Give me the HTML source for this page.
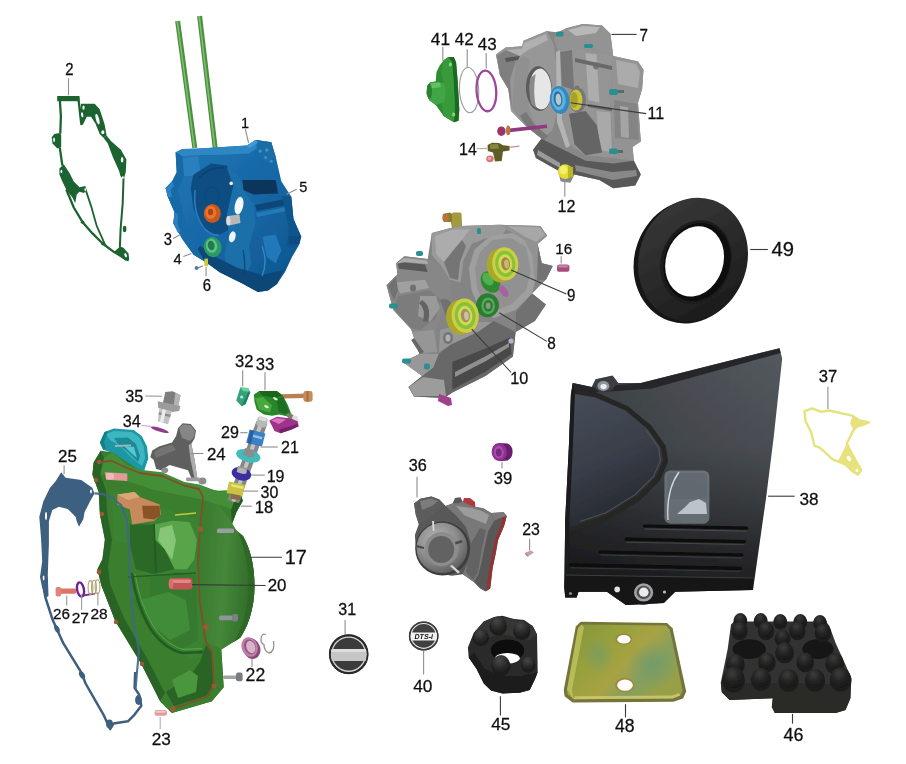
<!DOCTYPE html>
<html>
<head>
<meta charset="utf-8">
<title>Crankcase parts diagram</title>
<style>
html,body{margin:0;padding:0;background:#fff;}
body{width:906px;height:764px;overflow:hidden;font-family:"Liberation Sans",sans-serif;}
svg{display:block;}
text{font-family:"Liberation Sans",sans-serif;fill:#111;}
.ld{stroke:#8a8a8a;stroke-width:1;fill:none;}
.ldk{stroke:#333;stroke-width:1;fill:none;}
</style>
</head>
<body>
<svg width="906" height="764" viewBox="0 0 906 764">
<defs>
  <filter id="soft" x="-5%" y="-5%" width="110%" height="110%"><feGaussianBlur stdDeviation="0.6"/></filter>
  <filter id="softT" x="-2%" y="-2%" width="104%" height="104%"><feGaussianBlur stdDeviation="0.35"/></filter>
  <filter id="soft2" x="-5%" y="-5%" width="110%" height="110%"><feGaussianBlur stdDeviation="1.2"/></filter>
  <filter id="soft3" x="-10%" y="-10%" width="120%" height="120%"><feGaussianBlur stdDeviation="2.5"/></filter>
  <linearGradient id="blueG" x1="0" y1="0" x2="1" y2="1">
    <stop offset="0" stop-color="#2579b6"/><stop offset="0.5" stop-color="#1567a6"/><stop offset="1" stop-color="#0e548c"/>
  </linearGradient>
  <linearGradient id="grayG" x1="0" y1="0" x2="1" y2="1">
    <stop offset="0" stop-color="#c4c4c4"/><stop offset="0.5" stop-color="#9a9a9a"/><stop offset="1" stop-color="#5c5c5c"/>
  </linearGradient>
  <linearGradient id="greenG" x1="0" y1="0" x2="1" y2="1">
    <stop offset="0" stop-color="#5aa648"/><stop offset="0.5" stop-color="#3b8a34"/><stop offset="1" stop-color="#1f5c22"/>
  </linearGradient>
</defs>
<rect x="0" y="0" width="906" height="764" fill="#ffffff"/>

<!-- ===== PART 2 : green gasket ===== -->
<g id="p2" filter="url(#soft)">
  <g fill="none" stroke="#1e6430" stroke-width="2.3" stroke-linejoin="round" stroke-linecap="round">
    <path d="M59.4,99 L59.9,101.2 L60.9,116.1 L60.3,132.9"/>
    <path d="M59.9,148.4 L62.2,164.6"/>
    <path d="M66.6,190.2 L73.8,207.5 L82.4,221.9 L92.5,233.4 L102.6,243.5 L114.1,252.1 L127.8,260"/>
    <path d="M86,190.9 L91.1,206.1 L96.8,226.2 L102.6,239.2 L105.5,245.6" stroke-width="1.8"/>
    <path d="M123.5,178.7 L122.7,203.2 L120.6,229.1 L119.9,246.4" stroke-width="2"/>
    <path d="M78.3,97.4 L79.8,111.1 L81.3,124.2"/>
  </g>
  <g fill="#1e6430">
    <rect x="57.2" y="96" width="22.2" height="5.2"/>
    <path d="M81.1,103.7 L94.7,103.7 L99.7,109.2 L104.7,124.8 L106.6,135.4 L103.4,137.8 L99.7,134.1 L95.4,123.5 L91,116.7 L86.7,116.7 L82.9,124.8 L81.1,124.2 L79.8,111.1 Z"/>
    <path d="M106.6,135.4 L110.9,141 L120.9,149.7 L126.4,159.6 L125.8,172 L123.5,180.2 L120.4,176 L119,170.8 L112.8,157.1 L107.8,143.4 L103.4,137.8 Z"/>
    <path d="M52.5,143.4 L51.8,137.2 L54.3,134.1 L59.3,132.9 L61.2,134.7 L61.2,147.2 L57.4,148.4 Z"/>
    <path d="M59.4,168.6 L63.7,164.3 L69.5,173 L73.8,181.6 L79.5,187.3 L85.3,185.9 L86.7,190.2 L83.9,193.1 L79.5,191.7 L76.7,194.5 L75.2,203.2 L72.4,197.4 L66.6,190.2 L62.3,181.6 L59.4,174.4 Z"/>
    <path d="M114.1,252.1 L119.9,246.4 L123.5,247.8 L128.5,253.6 L129.2,259.3 L125.6,260.8 Z"/>
    <ellipse cx="124.6" cy="229" rx="1.8" ry="3.2"/>
    <ellipse cx="82.6" cy="222.2" rx="1.8" ry="1.6"/>
    <ellipse cx="103" cy="243.6" rx="2" ry="1.8"/>
  </g>
  <g fill="#fff">
    <ellipse cx="83.5" cy="107.7" rx="1.1" ry="2.1"/>
    <ellipse cx="82.2" cy="114.8" rx="1.1" ry="2.6" transform="rotate(-8 82.2 114.8)"/>
    <ellipse cx="97.5" cy="119.2" rx="1.6" ry="5.4" transform="rotate(-15 97.5 119.2)"/>
    <ellipse cx="102.8" cy="132.2" rx="1.5" ry="2"/>
    <ellipse cx="122.1" cy="159.8" rx="1.3" ry="2.8"/>
    <ellipse cx="122.8" cy="177.6" rx="1" ry="1.4"/>
    <ellipse cx="54.1" cy="139.8" rx="0.9" ry="2.4"/>
    <ellipse cx="61.4" cy="171.5" rx="0.9" ry="1.8"/>
    <ellipse cx="85.2" cy="189.6" rx="0.8" ry="1.6"/>
    <ellipse cx="125.6" cy="255.2" rx="1.2" ry="2.2" transform="rotate(-20 125.6 255.2)"/>
    <rect x="61.5" y="98.6" width="14.5" height="1.3" fill="#fff" opacity="0"/>
  </g>
</g>

<!-- ===== PART 1 : blue crankcase with studs ===== -->
<g id="p1">
  <g filter="url(#soft)">
    <line x1="177.6" y1="21" x2="194.8" y2="148" stroke="#4c8f43" stroke-width="5"/>
    <line x1="177.2" y1="21" x2="194.4" y2="148" stroke="#7cbf6c" stroke-width="1.6"/>
    <line x1="199.6" y1="16" x2="215.2" y2="148" stroke="#4c8f43" stroke-width="5"/>
    <line x1="199.2" y1="16" x2="214.8" y2="148" stroke="#7cbf6c" stroke-width="1.6"/>
  </g>
  <g filter="url(#soft)">
    <path d="M175.6,152.3 L182.3,148.9 L197.8,148.9 L211.2,147.8 L246.8,145.6 L255.7,140 L271.3,142.2 L275.7,156.7 L281.3,181.2 L291.3,196.8 L293.5,219 L301.3,236.8 L299,245 L292,257 L285,272 L277,284 L268,290.5 L257.9,292 L242.3,283.6 L220.1,272.4 L204.5,261.3 L193.4,254.6 L182.3,239 L173.4,223.5 L174.5,212.3 L167.8,196.8 L165.6,187.9 L172.2,181.2 L176.7,172.3 Z" fill="url(#blueG)"/>
    <!-- top rim lighter -->
    <path d="M175.6,152.3 L182.3,148.9 L211.2,147.8 L246.8,145.6 L255.7,140.0 L271.3,142.2 L272.4,147.8 L257.9,147.8 L249.0,153.4 L215.6,154.9 L200.1,154.9 L182.3,156.3 Z" fill="#2f86c2"/>
    <!-- cavity -->
    <path d="M193.4,174.5 L211.2,163.4 L226.8,165.6 L234.6,185.6 L231.2,214.6 L227.9,230.2 L217.9,235.7 L202.3,227.9 L193.4,207.9 L190.7,187.9 Z" fill="#0d4d82"/>
    <!-- web wall -->
    <path d="M226.8,167.8 L237.9,174.5 L244.6,192.3 L253.5,203.4 L255.7,223.5 L249.0,245.7 L251.3,263.5 L244.6,276.9 L226.8,268.0 L224.5,254.6 L229.0,234.6 L226.8,214.6 L233.4,185.6 Z" fill="#1c6fa9"/>
    <!-- dark recess top -->
    <path d="M242.4,180.1 L275.7,180.1 L278.0,193.4 L253.5,194.5 L243.5,190.1 Z" fill="#08355c"/>
    <!-- bottom shade -->
    <path d="M193.4,254.6 L204.5,261.3 L220.1,272.4 L242.4,283.6 L257.9,292 L268,290.5 L277,284 L283,270 L262,275 L237.9,268.0 L215.6,256.9 L200.1,245.7 Z" fill="#0b4678"/>
    <path d="M262.4,236.8 L275.7,234.6 L281.3,250.2 L275.7,263.5 L266.8,256.9 Z" fill="#2580c0" opacity="0.8"/>
    <path d="M255.7,140.0 L271.3,142.2 L275.7,156.7 L266.8,163.4 L257.9,154.5 Z" fill="#1d6ca6"/>
    <!-- ribs on right body -->
    <path d="M255,205 L290,198 L292,204 L257,211 Z" fill="#0c4778"/>
    <path d="M256,213 L291,206 L292,210 L257,217 Z" fill="#2a84c4" opacity="0.7"/>
    <path d="M282,196 L291.3,196.8 L293.5,219 L301.3,236.8 L293.5,248 L287,246 L289,228 Z" fill="#10548a"/>
    <!-- left flange shading -->
    <path d="M175.6,152.3 L182.3,156.3 L184,176 L178,190 L183,214 L190,235 L204.5,261.3 L193.4,254.6 L182.3,239 L173.4,223.5 L174.5,212.3 L167.8,196.8 L165.6,187.9 L172.2,181.2 L176.7,172.3 Z" fill="#186aa6"/>
    <path d="M183,158 L198,156 L200,170 L192,176 L184,176 Z" fill="#2c80bc"/>
    <!-- extra details -->
    <g fill="#3b92d2">
      <circle cx="260.2" cy="151.1" r="1.7"/><circle cx="266.8" cy="150" r="1.7"/><circle cx="265.7" cy="157.6" r="1.5"/><circle cx="271.3" cy="161.2" r="1.5"/>
    </g>
    <path d="M195,190 Q193,214 204,228 Q211,236 219,235" fill="none" stroke="#2b82c4" stroke-width="1.6" opacity="0.9"/>
    <path d="M199,178 Q210,166 224,168" fill="none" stroke="#0a3f6e" stroke-width="1.6" opacity="0.8"/>
    <ellipse cx="212" cy="196" rx="7" ry="9" fill="none" stroke="#0b4576" stroke-width="1.2" opacity="0.8"/>
    <path d="M167.8,196.8 L165.6,187.9 L172.2,181.2 L174,186 L170.6,190 L172,197 Z" fill="#2c84c6"/>
    <path d="M173.4,223.5 L174.5,212.3 L178,214 L177.6,224 L181,232 L178,233 Z" fill="#2a80c2"/>
    <path d="M246.8,145.6 L255.7,140 L258,142.6 L249.6,148 Z" fill="#3f9bd8"/>
    <path d="M288.5,236 L301,236.6 L299.4,244 L289,244.6 Z" fill="#0d4c82"/>
    <path d="M262,246 Q268,262 262,276" fill="none" stroke="#3590cf" stroke-width="1.4" opacity="0.85"/>
    <path d="M243,250 Q246,266 244,276" fill="none" stroke="#0a4070" stroke-width="1.4" opacity="0.8"/>
    <!-- white holes -->
    <ellipse cx="239" cy="205.7" rx="4.2" ry="9" fill="#f4f8fb" transform="rotate(12 239 205.7)"/>
    <ellipse cx="232.3" cy="236.8" rx="3.2" ry="5.6" fill="#eef4f8" transform="rotate(15 232.3 236.8)"/>
    <circle cx="231.2" cy="183.4" r="1.8" fill="#e8f0f6"/>
    <!-- orange part 3 -->
    <ellipse cx="212.3" cy="213.5" rx="8.5" ry="9.5" fill="#c8581e"/>
    <ellipse cx="210.8" cy="212.5" rx="5.5" ry="6.5" fill="#e8742c"/>
    <ellipse cx="210.5" cy="212" rx="2.6" ry="3.2" fill="#a8451a"/>
    <!-- gray cylinder 5 -->
    <path d="M227.5,216 L239.5,214.5 L240.5,223 L229,225.5 Z" fill="#b8b8b8"/>
    <ellipse cx="228.3" cy="220.8" rx="2.2" ry="4.8" fill="#dcdcdc"/>
    <!-- green seal 4 -->
    <ellipse cx="212.6" cy="247" rx="8.8" ry="10.2" fill="#2f9a62" transform="rotate(-12 212.6 247)"/>
    <ellipse cx="211.6" cy="245.8" rx="5.6" ry="7" fill="#5cc48a" transform="rotate(-12 211.6 245.8)"/>
    <ellipse cx="211.2" cy="245.5" rx="3.4" ry="4.8" fill="#237a4d" transform="rotate(-12 211.2 245.5)"/>
    <!-- yellow 6 + screw -->
    <rect x="204.4" y="258.6" width="3.6" height="7.6" fill="#c8c83c"/>
    <circle cx="196.6" cy="268" r="2" fill="#5a7a9c"/>
    <line x1="197" y1="268" x2="203" y2="266" stroke="#6a86a4" stroke-width="1.2"/>
  </g>
</g>

<!-- ===== PART 41/42/43 : green cap + o-rings ===== -->
<g id="p41" filter="url(#soft)">
  <path d="M443.6,60.2 L448.3,57.1 L453.8,57.1 L456.1,62.6 L457.7,81.4 L459.3,109.7 L458.5,120.7 L453.8,122.3 L443.6,116 L435.7,105 L429.4,100.3 L426.6,94 L427.1,86.1 L430.2,82.2 L435.7,81.4 L436.5,72 L439.6,65.7 Z" fill="#2e8c33"/>
  <path d="M448.3,57.1 L453.8,57.1 L456.1,62.6 L457.7,81.4 L459.3,109.7 L458.5,120.7 L453.8,122.3 L455,108 L453.6,80 L452,62 Z" fill="#1d6a24"/>
  <path d="M443.6,60.2 L448.3,57.1 L452,62 L453.6,80 L455,108 L453.8,122.3 L443.6,116 L441,101 L444,84 L441,72 Z" fill="#379a3b"/>
  <path d="M429.4,100.3 L426.6,94 L427.1,86.1 L430.2,82.2 L435.7,81.4 L444,83 L446,92 L444,102 L435.7,105 Z" fill="#3fa544"/>
  <path d="M430.5,83.5 L440,82.5 L441,87 L431,88.5 Z" fill="#6cc86c" opacity="0.8"/>
  <ellipse cx="429.4" cy="91.4" rx="2.6" ry="7.6" fill="#2a822f"/>
  <ellipse cx="450.4" cy="64.6" rx="1.5" ry="2" fill="#86d484"/>
  <ellipse cx="453.6" cy="114.6" rx="1.5" ry="2" fill="#86d484"/>
  <ellipse cx="469.1" cy="90.1" rx="9.6" ry="22.6" fill="none" stroke="#9c9c9c" stroke-width="1.1" transform="rotate(-3 469.1 90.1)"/>
  <ellipse cx="486.4" cy="90.9" rx="9.8" ry="20.4" fill="none" stroke="#9a4a98" stroke-width="2.3" transform="rotate(-4 486.4 90.9)"/>
</g>

<!-- ===== PART 7 : upper gray crankcase ===== -->
<g id="p7" filter="url(#soft)">
  <path d="M495.9,54.5 L505.5,47.6 L522.1,46.2 L523.5,40.7 L546.9,31.0 L558.0,32.4 L566.2,28.3 L582.8,24.1 L602.1,25.5 L610.4,33.8 L613.2,55.9 L638.0,61.4 L643.5,69.7 L642.1,89.0 L638.0,102.8 L640.8,141.4 L632.5,146.9 L633.9,160.7 L640.8,174.5 L635.2,185.6 L613.2,188.3 L599.4,180.0 L574.5,174.5 L570.4,182.8 L560.7,181.4 L558.0,170.4 L535.9,158.0 L533.1,149.7 L541.4,138.7 L524.9,124.9 L511.1,111.1 L508.3,89.0 L500.0,75.2 Z" fill="#878787"/>
  <!-- left flange face -->
  <path d="M495.9,54.5 L505.5,47.6 L522.1,46.2 L523.5,40.7 L546.9,31.0 L553.8,44.8 L556.6,66.9 L558.0,89.0 L556.6,113.8 L552.5,130.4 L541.4,138.7 L524.9,124.9 L511.1,111.1 L508.3,89.0 L500.0,75.2 Z" fill="#979797"/>
  <path d="M497,56 L506,50 L521,49 L516,60 L510,80 L512,108 L508.3,89.0 L500.0,75.2 Z" fill="#7f7f7f"/>
  <path d="M512,108 L516,62 L524,56 L530,60 L527,80 L528,104 L534,122 L541,136 L524.9,124.9 Z" fill="#909090"/>
  <path d="M505,58 L520,56 L518,60 L506,62 Z" fill="#565656"/>
  <path d="M506,50 L522,48.5 L524,43 L546,34 L548,40 L528,50 L520,56 Z" fill="#b0b0b0"/>
  <!-- top lighter -->
  <path d="M566.2,28.3 L582.8,24.1 L602.1,25.5 L610.4,33.8 L613.2,55.9 L588.3,50.4 L574.5,47.6 L558.0,50.4 L553.8,39.3 L558.0,32.4 Z" fill="#939393"/>
  <path d="M568,30 L583,26 L600,27 L596,33 L576,36 Z" fill="#b8b8b8"/>
  <!-- middle body -->
  <path d="M558.0,50.4 L574.5,47.6 L588.3,50.4 L613.2,55.9 L610.4,102.8 L613.2,158.0 L585.6,155.2 L569.0,144.2 L558.0,113.8 L556.6,66.9 Z" fill="#959595"/>
  <path d="M585.6,53.1 L596.6,54.5 L599.4,102.8 L588.3,100.0 Z" fill="#adadad"/>
  <path d="M596.6,111.1 L610.4,112.4 L611.8,152.5 L599.4,149.7 Z" fill="#a9a9a9"/>
  <path d="M569.0,113.8 L585.6,111.1 L596.6,124.9 L602.1,152.5 L585.6,155.2 L574.5,144.2 Z" fill="#656565"/>
  <path d="M560,52 L572,50 L574,90 L562,86 Z" fill="#767676"/>
  <!-- right face -->
  <path d="M613.2,55.9 L638.0,61.4 L643.5,69.7 L642.1,89.0 L638.0,102.8 L640.8,141.4 L632.5,146.9 L633.9,160.7 L613.2,158.0 L610.4,102.8 Z" fill="#939393"/>
  <path d="M616,60 L636,64 L640,72 L638,88 L618,84 Z" fill="#ababab"/>
  <path d="M614,100 L637,104 L639,140 L615,138 Z" fill="#848484"/>
  <path d="M620,106 L628,107 L629,138 L621,137 Z" fill="#a4a4a4"/>
  <!-- bottom dark -->
  <path d="M535.9,158.0 L558.0,170.4 L574.5,174.5 L599.4,180.0 L613.2,188.3 L635.2,185.6 L640.8,174.5 L633.9,160.7 L613.2,163.5 L585.6,160.7 L563.5,149.7 L541.4,138.7 L533.1,149.7 Z" fill="#595959"/>
  <path d="M575,165 L612,172 L636,170 L637,176 L613,180 L576,171 Z" fill="#888888"/>
  <path d="M538,150 L560,163 L560,168 L537,155 Z" fill="#9a9a9a"/>
    <path d="M556,52 L560,50 L562,120 L570,146 L566,148 L557,122 Z" fill="#b4b4b4"/>
  <path d="M526,112 L534,124 L548,136 L544,140 L528,128 L520,116 Z" fill="#787878"/>
  <ellipse cx="596" cy="66" rx="3" ry="3.4" fill="#747474"/>
  <ellipse cx="577" cy="88" rx="2.4" ry="2.6" fill="#737373"/>
  <path d="M575,58 L612,66 L612,70 L575,62 Z" fill="#696969"/>
  <path d="M588,104 L612,108 L612,111 L588,107 Z" fill="#656565"/>
<!-- big hole -->
  <ellipse cx="539" cy="88.6" rx="13" ry="22.4" fill="#5c5c5c" transform="rotate(-3 539 88.6)"/>
  <ellipse cx="540.6" cy="89" rx="10.8" ry="20.4" fill="#e6e6e6" transform="rotate(-3 540.6 89)"/>
  <path d="M530.4,78 Q528,90 531,104 L536,108 Q532.6,92 535.6,74 Z" fill="#8a8a8a"/>
  <!-- yellow inner + blue seal 11 -->
  <ellipse cx="577.5" cy="100" rx="8.5" ry="12.5" fill="#777"/>
  <ellipse cx="576" cy="100" rx="6.4" ry="10.6" fill="#c9c43a"/>
  <ellipse cx="574" cy="100" rx="3.8" ry="8" fill="#a8a22a"/>
  <ellipse cx="559.6" cy="100" rx="9.8" ry="14" fill="#3588bd" transform="rotate(-6 559.6 100)"/>
  <ellipse cx="558.6" cy="99.4" rx="7" ry="11" fill="#5fb2e0" transform="rotate(-6 558.6 99.4)"/>
  <ellipse cx="558" cy="99" rx="4.3" ry="7.8" fill="#2a6f9e" transform="rotate(-6 558 99)"/>
  <ellipse cx="558.4" cy="99.4" rx="2.8" ry="5.8" fill="#b8c8d0" transform="rotate(-6 558.4 99.4)"/>
  <!-- yellow plug 12 -->
  <ellipse cx="565" cy="171.6" rx="7" ry="7.4" fill="#e2dc34"/>
  <ellipse cx="563.4" cy="170" rx="4" ry="4.4" fill="#f4f06a"/>
  <path d="M568,166 L573,167 L573,177 L568,178 Z" fill="#bdb726"/>
  <!-- teal bolts -->
  <g fill="#2b8f92">
    <rect x="556" y="31.5" width="7.5" height="5" rx="1.5"/>
    <rect x="584" y="44" width="9" height="4" rx="1.5"/>
    <rect x="609" y="89" width="9" height="6" rx="2"/>
    <rect x="609" y="148.5" width="9" height="5.5" rx="2"/>
  </g>
  <g fill="#5a6a6a">
    <rect x="618" y="90" width="6" height="3"/>
    <rect x="618" y="150" width="5" height="3"/>
  </g>
  <!-- purple long bolt -->
  <line x1="507" y1="130.6" x2="547" y2="126.3" stroke="#8f3a7e" stroke-width="3.6"/>
  <ellipse cx="501.4" cy="131.2" rx="4.2" ry="4.8" fill="#9a3570"/>
  <ellipse cx="508.2" cy="130.4" rx="2.2" ry="4.8" fill="#b8783a"/>
  <!-- part 14 -->
  <path d="M487.6,145 L492,142.7 L499,142.9 L503,145.2 L509.6,146 L509.6,150.4 L503,151.4 L501.7,161 L495,161.6 L493,152.4 L487.8,151 Z" fill="#5e5c28"/>
  <path d="M490,144.4 L498,144 L499,148.6 L490.4,149 Z" fill="#8a8640"/>
  <line x1="509" y1="147.4" x2="519.4" y2="146.2" stroke="#c09090" stroke-width="1.2"/>
  <ellipse cx="490" cy="158.8" rx="3.8" ry="3.4" fill="#d47878"/>
  <ellipse cx="489.4" cy="158.4" rx="1.8" ry="1.6" fill="#f0a8a8"/>
</g>

<!-- ===== lower gray crankcase (8,9,10,16) ===== -->
<g id="p8" filter="url(#soft)">
  <!-- brass fitting top -->
  <path d="M443,214 L450,212.5 L452,214 L461,213 L462,227 L452,228 L451,222 L444,222 Z" fill="#8a7a2e"/>
  <rect x="452" y="212.5" width="9.5" height="15" rx="1.5" fill="#a39a3c"/>
  <ellipse cx="445.5" cy="217.8" rx="3.2" ry="4.2" fill="#b5743a"/>
  <path d="M452.4,227.5 L460.7,226.1 L499.2,224.7 L540.4,226.1 L547.2,235.7 L537.6,244.0 L541.8,263.2 L552.7,266.0 L545.9,279.7 L532.1,293.4 L545.9,304.4 L534.9,320.9 L515.6,331.9 L512.9,356.6 L485.4,375.9 L452.4,392.4 L444.2,397.9 L414.0,396.5 L408.5,386.9 L422.2,375.9 L403.0,362.1 L419.5,353.9 L411.2,329.2 L393.4,309.9 L386.5,285.2 L397.5,274.2 L396.1,263.2 L404.4,256.3 L427.7,259.1 L431.8,233.0 Z" fill="#848484"/>
  <!-- top/left flange -->
  <path d="M452.4,227.5 L460.7,226.1 L499.2,224.7 L507.4,227.5 L501.9,235.7 L485.4,238.5 L471.7,244.0 L463.4,260.5 L460.7,282.4 L449.7,279.7 L441.4,266.0 L431.8,255.0 L431.8,233.0 Z" fill="#9a9a9a"/>
  <path d="M435,236 L452,230 L470,229 L462,240 L452,252 L444,262 L436,254 Z" fill="#acacac"/>
  <path d="M444,262 L452,252 L462,240 L466,246 L460,262 L458,280 L450,278 Z" fill="#757575"/>
  <!-- left body -->
  <path d="M404.4,256.3 L427.7,259.1 L441.4,266.0 L449.7,279.7 L452.4,298.9 L441.4,315.4 L436.0,329.2 L438.7,353.9 L433.2,367.6 L422.2,375.9 L403.0,362.1 L419.5,353.9 L411.2,329.2 L393.4,309.9 L386.5,285.2 L397.5,274.2 L396.1,263.2 Z" fill="#878787"/>
  <path d="M397.5,261.8 L425.0,264.6 L427.7,272.0 L398.9,268.7 Z" fill="#585858"/>
  <path d="M394.7,282.4 L425.0,279.7 L429.1,287.9 L400.2,293.4 Z" fill="#a0a0a0"/>
  <path d="M398,296 L430,290 L440,300 L436,318 L420,330 L411,328 L394,309 Z" fill="#7c7c7c"/>
  <path d="M420,296 L436,296 L440,308 L430,322 L418,316 Z" fill="#9a9a9a"/>
  <path d="M412,332 L434,330 L437,352 L420,353 Z" fill="#969696"/>
  <!-- right cavity big recess -->
  <path d="M474.4,249.5 L490.9,235.7 L512.9,233.0 L532.1,244.0 L537.6,271.4 L532.1,293.4 L515.6,309.9 L493.7,318.2 L479.9,309.9 L471.7,290.7 L468.9,268.7 Z" fill="#9f9f9f"/>
  <path d="M480,252 L493,240 L511,238 L526,247 L531,271 L526,290 L512,304 L495,311 L484,304 L477,288 L475,268 Z" fill="#919191"/>
  <!-- right edge -->
  <path d="M499.2,224.7 L540.4,226.1 L547.2,235.7 L537.6,244.0 L541.8,263.2 L552.7,266.0 L545.9,279.7 L534.9,282.4 L532.1,255.0 L523.9,238.5 L507.4,230.2 Z" fill="#929292"/>
  <path d="M508,226 L540,227.5 L545,235 L536,242 L524,236 Z" fill="#a7a7a7"/>
  <path d="M538,246 L541.8,263.2 L552.7,266.0 L545.9,279.7 L537,281 Z" fill="#737373"/>
  <path d="M532.1,293.4 L545.9,304.4 L534.9,320.9 L515.6,331.9 L516,312 Z" fill="#717171"/>
  <!-- bottom -->
  <path d="M438.7,353.9 L452.4,342.9 L479.9,329.2 L493.7,320.9 L515.6,331.9 L512.9,356.6 L485.4,375.9 L452.4,392.4 L444.2,397.9 L414.0,396.5 L408.5,386.9 L422.2,375.9 L433.2,367.6 Z" fill="#676767"/>
  <path d="M452.4,362.1 L485.4,348.4 L510.1,337.4 L511.5,353.9 L485.4,371.8 L452.4,389.6 Z" fill="#494949"/>
  <path d="M455,372 L486,356 L509,343 L509,347 L486,361 L455,377 Z" fill="#8f8f8f"/>
  <path d="M403.0,362.1 L419.5,353.9 L438.7,353.9 L433.2,367.6 L422.2,375.9 Z" fill="#989898"/>
  <path d="M409,387 L423,377 L444,380 L446,396 L414,396 Z" fill="#9c9c9c"/>
  <path d="M440,330 L470,322 L492,322 L478,332 L452,344 L439,352 Z" fill="#969696"/>
    <path d="M396,264 L404,258 L427,260.5 L428,264 L405,262 Z" fill="#ababab"/>
  <path d="M388,286 L396,277 L398,290 L394,300 Z" fill="#717171"/>
  <ellipse cx="413" cy="288" rx="3" ry="3.4" fill="#6f6f6f"/>
  <path d="M422,300 Q432,306 428,322 L423,321 Q426,309 419,303 Z" fill="#646464"/>
  <path d="M414,338 L424,352 L420,354 L411.2,340 Z" fill="#666666"/>
  <ellipse cx="448" cy="338" rx="5" ry="6" fill="#737373"/>
  <ellipse cx="448" cy="338" rx="2.6" ry="3.4" fill="#afafaf"/>
  <path d="M440,300 Q452,296 452,310 L446,316 Z" fill="#717171"/>
<!-- green cone + bearing 8 -->
  <ellipse cx="490.5" cy="282" rx="9" ry="11.5" fill="#2f8a2f" transform="rotate(-35 490.5 282)"/>
  <ellipse cx="488" cy="279" rx="5" ry="7" fill="#4fb04f" transform="rotate(-35 488 279)"/>
  <ellipse cx="503.6" cy="291" rx="3.4" ry="7" fill="#a860a4" transform="rotate(-35 503.6 291)"/>
  <ellipse cx="487.5" cy="305.2" rx="11.4" ry="12" fill="#2c7b2f"/>
  <ellipse cx="488.2" cy="305.8" rx="6.8" ry="8.4" fill="#58a85a"/>
  <ellipse cx="488.2" cy="305.8" rx="4.6" ry="5.8" fill="#2c7b2f"/>
  <ellipse cx="488.2" cy="305.8" rx="2.4" ry="3.2" fill="#8a9a8a"/>
  <!-- bearing 9 -->
  <ellipse cx="500" cy="265.6" rx="13.2" ry="17" fill="#aaa82c" transform="rotate(-6 500 265.6)"/>
  <ellipse cx="505.3" cy="263.8" rx="13" ry="16.6" fill="#cdcf42" transform="rotate(-6 505.3 263.8)"/>
  <ellipse cx="505.3" cy="263.8" rx="10" ry="13.2" fill="#86c23a" transform="rotate(-6 505.3 263.8)"/>
  <ellipse cx="505.3" cy="263.8" rx="7" ry="9.6" fill="#d6d850" transform="rotate(-6 505.3 263.8)"/>
  <ellipse cx="505.6" cy="263.8" rx="4.4" ry="6.6" fill="#9c8648" transform="rotate(-6 505.6 263.8)"/>
  <ellipse cx="506.6" cy="264" rx="2.4" ry="4.4" fill="#c8b878" transform="rotate(-6 506.6 264)"/>
  <!-- bearing 10 -->
  <ellipse cx="460" cy="317.4" rx="13.8" ry="17.4" fill="#aaa82c" transform="rotate(-6 460 317.4)"/>
  <ellipse cx="465.2" cy="315.6" rx="13.6" ry="17.2" fill="#cdcf42" transform="rotate(-6 465.2 315.6)"/>
  <ellipse cx="465.2" cy="315.6" rx="10.4" ry="13.6" fill="#86c23a" transform="rotate(-6 465.2 315.6)"/>
  <ellipse cx="465.2" cy="315.6" rx="7.2" ry="9.8" fill="#d6d850" transform="rotate(-6 465.2 315.6)"/>
  <ellipse cx="465.4" cy="315.6" rx="4.6" ry="6.8" fill="#a09068" transform="rotate(-6 465.4 315.6)"/>
  <ellipse cx="466.4" cy="315.8" rx="2.4" ry="4.4" fill="#c8c0a0" transform="rotate(-6 466.4 315.8)"/>
  <!-- teal bolts -->
  <g fill="#2b8f92">
    <rect x="416" y="251" width="7" height="5" rx="2"/>
    <rect x="389" y="303.5" width="9" height="5" rx="2"/>
    <rect x="402" y="358.5" width="9" height="5" rx="2"/>
    <rect x="424" y="363.5" width="6" height="6" rx="2"/>
    <rect x="477" y="228" width="4" height="6" rx="1.5"/>
  </g>
  <!-- pin 16 & bottom purple pin -->
  <rect x="557" y="264.4" width="12.4" height="7.4" rx="2.6" fill="#a44c7c"/>
  <rect x="558" y="265.2" width="10" height="2.4" rx="1.2" fill="#c884a8"/>
  <path d="M439,394 L451,398 L452,405 L448,406 L438,401 Z" fill="#a0408c"/>
  <ellipse cx="511" cy="341" rx="2.6" ry="2.6" fill="#b8b0d0"/>
</g>

<!-- ===== PART 49 : oil seal ===== -->
<g id="p49" filter="url(#soft)">
  <defs>
    <linearGradient id="sealG" x1="0" y1="0" x2="1" y2="1">
      <stop offset="0" stop-color="#3a3a3a"/><stop offset="0.5" stop-color="#2a2a2a"/><stop offset="1" stop-color="#161616"/>
    </linearGradient>
  </defs>
  <ellipse cx="689.4" cy="261.6" rx="55" ry="62.6" fill="#151515" transform="rotate(19 689.4 261.6)"/>
  <ellipse cx="693" cy="259.5" rx="54" ry="62.6" fill="url(#sealG)" transform="rotate(19 693 259.5)"/>
  <ellipse cx="696" cy="262" rx="35" ry="42.5" fill="#1a1a1a" transform="rotate(19 696 262)"/>
  <ellipse cx="697" cy="262" rx="32.6" ry="39.6" fill="#0c0c0c" transform="rotate(19 697 262)"/>
  <ellipse cx="694.6" cy="261.4" rx="28.6" ry="35.8" fill="#ffffff" transform="rotate(19 694.6 261.4)"/>
</g>

<!-- ===== PART 38 : black cover ===== -->
<g id="p38" filter="url(#soft)">
  <defs>
    <linearGradient id="covG" x1="0" y1="0" x2="0" y2="1">
      <stop offset="0" stop-color="#54595e"/><stop offset="0.38" stop-color="#4a4f54"/><stop offset="0.62" stop-color="#373a3e"/><stop offset="0.8" stop-color="#28292b"/><stop offset="1" stop-color="#1b1c1d"/>
    </linearGradient>
    <linearGradient id="covH" x1="0" y1="0" x2="1" y2="0">
      <stop offset="0" stop-color="#000" stop-opacity="0.28"/><stop offset="0.55" stop-color="#000" stop-opacity="0.1"/><stop offset="1" stop-color="#000" stop-opacity="0"/>
    </linearGradient>
    <linearGradient id="covL" x1="0.2" y1="0" x2="0.5" y2="1">
      <stop offset="0" stop-color="#464c58"/><stop offset="0.5" stop-color="#393e49"/><stop offset="1" stop-color="#23262c"/>
    </linearGradient>
  </defs>
  <path id="covP" d="M572.8,383.1 L591.7,386.9 L595.5,379.3 L612.6,375.5 L618.3,383.1 L641.0,383.1 L779.5,348.2 L782.2,358.5 L773.8,436.2 L766.2,496.9 L753.0,589.9 L675.2,591.8 L663.8,603.1 L625.9,605.0 L606.9,591.8 L578.5,591.8 L576.6,597.5 L565.2,597.5 L564.4,588.0 L565.2,519.7 L569.0,443.8 L570.9,394.5 Z" fill="url(#covG)"/>
  <path d="M572.8,383.1 L591.7,386.9 L595.5,379.3 L612.6,375.5 L618.3,383.1 L641.0,383.1 L779.5,348.2 L782.2,358.5 L773.8,436.2 L766.2,496.9 L753.0,589.9 L675.2,591.8 L663.8,603.1 L625.9,605.0 L606.9,591.8 L578.5,591.8 L576.6,597.5 L565.2,597.5 L564.4,588.0 L565.2,519.7 L569.0,443.8 L570.9,394.5 Z" fill="url(#covH)"/>
  <!-- top bevel -->
  <path d="M572.8,383.1 L591.7,386.9 L618.3,385 L641.0,383.1 L779.5,348.2 L780.8,353 L652,388.4 L618,391 L592,392.4 L572,389 Z" fill="#26282a"/>
  <!-- left curved panel -->
  <path d="M572.8,392.6 L595.5,396.4 L625.9,409.7 L648.6,428.6 L661.9,447.6 L663.8,460.9 L656.2,478.0 L637.3,496.9 L606.9,515.9 L567.1,529.2 L568.2,481.7 L569.7,424.8 Z" fill="url(#covL)"/>
  <path d="M572.8,391 L595.5,394.8 L626.4,408.2 L649.8,427.6 L663.4,447 L665.6,461 L657.8,478.8 L638.4,498.4 L607.6,517.6 L567.1,531" fill="none" stroke="#252523" stroke-width="5" stroke-linejoin="round"/>
  <path d="M646,430 L658.6,447.8 L660.4,460.6 L653.4,476.6 L635,494.6 L606,512.8 L580,521.6" fill="none" stroke="#5a5b53" stroke-width="1.1" stroke-linejoin="round" opacity="0.8"/>
  <!-- left edge dark -->
  <path d="M572.8,383.1 L570.9,394.5 L569.0,443.8 L565.2,519.7 L564.4,588.0 L568.6,588 L569.4,520 L573,444 L575,392 Z" fill="#1a1b1c"/>
  <!-- bottom rim -->
  <path d="M565.2,574.8 L753.0,577.8 L753.0,589.9 L675.2,591.8 L663.8,603.1 L625.9,605.0 L606.9,591.8 L578.5,591.8 L576.6,597.5 L565.2,597.5 L564.4,588.0 Z" fill="#171819"/>
  <line x1="566" y1="575" x2="753" y2="578" stroke="#3c3f42" stroke-width="1"/>
  <!-- sticker -->
  <rect x="664.4" y="470.4" width="45" height="53.4" rx="6" fill="#88919a" opacity="0.62"/>
  <rect x="667" y="473" width="40" height="26" rx="4" fill="#5b636b" opacity="0.55"/>
  <path d="M668,520 Q666,490 679,472" fill="none" stroke="#d4dade" stroke-width="1.3"/>
  <path d="M677,514 L684,508 L690,502 L699,499 L706,503 L707,514 Z" fill="#bcc4ca"/>
  <!-- grooves -->
  <g stroke-linecap="round">
    <line x1="644.4" y1="526" x2="746.6" y2="528.2" stroke="#0b0b0c" stroke-width="3.2"/>
    <line x1="626" y1="539.2" x2="744.4" y2="541.6" stroke="#0b0b0c" stroke-width="3.2"/>
    <line x1="600.4" y1="552" x2="742" y2="555" stroke="#0b0b0c" stroke-width="3.2"/>
    <line x1="570.4" y1="564.8" x2="740.6" y2="568.4" stroke="#0b0b0c" stroke-width="3.2"/>
    <line x1="645" y1="529" x2="746" y2="531.2" stroke="#4a4d50" stroke-width="0.9"/>
    <line x1="626.6" y1="542.2" x2="744" y2="544.6" stroke="#45484b" stroke-width="0.9"/>
    <line x1="601" y1="555" x2="741.6" y2="558" stroke="#3e4144" stroke-width="0.9"/>
    <line x1="571" y1="567.8" x2="740" y2="571.4" stroke="#383a3d" stroke-width="0.9"/>
  </g>
  <!-- bottom bushing -->
  <ellipse cx="643.6" cy="592.6" rx="13" ry="12.2" fill="#161617"/>
  <ellipse cx="643.6" cy="592.4" rx="9.6" ry="9.2" fill="#9ea2a6"/>
  <ellipse cx="643.6" cy="592.4" rx="7" ry="6.6" fill="#4a4d50"/>
  <ellipse cx="643.8" cy="592.2" rx="4.8" ry="4.6" fill="#ececec"/>
  <circle cx="617.2" cy="589.4" r="2.8" fill="#e4e4e4"/>
  <circle cx="664.5" cy="592" r="1.6" fill="#bcbcbc"/>
  <circle cx="570.5" cy="593.5" r="1.6" fill="#8a8a8a"/>
  <!-- top-left ear -->
  <path d="M593,386 L596,379.6 L612.4,376 L617.6,383 L612,390 L600,393 Z" fill="#3a3d40"/>
  <ellipse cx="603.4" cy="386" rx="6" ry="5" fill="#8e969c"/>
  <ellipse cx="603.6" cy="386.6" rx="3.2" ry="2.6" fill="#e8eef2"/>
</g>

<!-- ===== PART 37 : yellow gasket ===== -->
<g id="p37" filter="url(#soft)">
  <path d="M804.5,411.2 L812.3,408.3 L821.2,411.9 L829.0,410.5 L852.4,415.7 L859.0,420.1 L869.0,422.3 L863.5,424.6 L856.8,426.8 L853.5,430.1 L846.8,443.5 L852.4,454.6 L861.3,470.2 L857.9,474.6 L852.4,471.3 L845.7,464.6 L837.9,461.3 L832.3,459.1 L820.1,447.9 L814.5,445.7 L811.2,432.4 L805.6,421.2 Z" fill="none" stroke="#e6e27e" stroke-width="2.4" stroke-linejoin="round"/>
  <path d="M852.4,415.7 L859.0,420.1 L869.0,422.3 L863.5,424.6 L856.8,426.8 L853.5,430.1 L850.1,423.4 Z" fill="#e6e27e"/>
  <path d="M846.8,443.5 L852.4,454.6 L861.3,470.2 L857.9,474.6 L852.4,471.3 L845.7,464.6 L837.9,461.3 L842.3,452.4 Z" fill="#e6e27e"/>
  <ellipse cx="849" cy="458.5" rx="1.8" ry="3" fill="#fff" transform="rotate(-30 849 458.5)"/>
  <circle cx="857" cy="470.5" r="1.6" fill="#fff"/>
</g>

<!-- ===== PART 25 : blue-gray gasket (back part) ===== -->
<g id="p25" filter="url(#soft)">
  <path d="M61.2,472.3 L55.6,481.2 L50,487.8 L43.4,501.2 L39.3,516.8 L41.1,539 L42.2,561.3 L40,576.9 L42.2,588 L45.6,598 L48.5,596 L47.8,574.6 L48.9,543.5 L48.9,521.2 L52.3,510.1 L58.9,506.8 L67.8,509 L75.6,516.8 L76.7,521.2 L79,526.8 L83.4,519 L84.5,512.3 L90.1,501.2 L94.5,493.4 L92.3,487.8 L81.2,480 L65.6,477.8 Z" fill="#3d5e80"/>
  <path d="M44,590 L45.6,598 L52.3,618.9 L63.4,643.4 L81.2,672.3 L85.6,683.5 L103.4,714.6 L110.1,729.1 L113.5,723.5 L127.9,721.3 L134.6,714.6 L141.3,705.7 L139.1,694.6 L134.6,687.9 L135.2,672" fill="none" stroke="#3d5e80" stroke-width="2.5" stroke-linejoin="round"/>
  <ellipse cx="82" cy="675" rx="2.6" ry="4" fill="#3d5e80" transform="rotate(-30 82 675)"/>
  <ellipse cx="109.5" cy="724" rx="3.4" ry="4.4" fill="#3d5e80"/>
  <ellipse cx="138.5" cy="700" rx="3.4" ry="5" fill="#3d5e80"/>
  <ellipse cx="57" cy="629" rx="2.4" ry="4" fill="#3d5e80" transform="rotate(-25 57 629)"/>
  <ellipse cx="46" cy="516" rx="1" ry="4" fill="#fff"/>
  <ellipse cx="43.6" cy="578" rx="0.9" ry="2.4" fill="#fff"/>
  <ellipse cx="91" cy="491.6" rx="0.9" ry="2" fill="#fff"/>
</g>

<!-- ===== PART 17 group : green cover ===== -->
<g id="p17" filter="url(#soft)">
  <!-- teal cover top-left -->
  <path d="M99.9,442.5 L104.6,431.9 L113.8,428.6 L133.7,429.9 L141.7,435.9 L147,446.5 L148.3,458.4 L144.3,470.3 L135,471 L123.1,463 L111.2,452.5 L103.2,449.8 Z" fill="#1d97a4"/>
  <path d="M106,434 L114,431 L132,432 L139.6,437.6 L144,447 L145,458 L142,466 L132,458 L120,446 L110,440 Z" fill="#3db6c2"/>
  <path d="M114,438 L128,437.6 L136,444 L140,456 L138,462 L128,452 L118,444 Z" fill="#1f8a96"/>
  <path d="M124,446 L134,447 L137,458 L130,452 Z" fill="#55c8d2"/>
  <line x1="115" y1="446" x2="131" y2="445.4" stroke="#9fb4b6" stroke-width="1.8"/>
  <path d="M99.9,442.5 L104.6,431.9 L108,431 L104,442 L106,449 L103.2,449.8 Z" fill="#128088"/>
  <!-- gray bracket 24 -->
  <path d="M178.1,427.9 L182.7,423.3 L190.7,424 L196,430.6 L194.6,438.5 L191.3,443.8 L194.6,459.7 L197.3,478.3 L192,479.6 L188,470.3 L169.5,465 L161.5,470.3 L156.2,469 L153.6,459.7 L150.3,457.1 L152.3,450.5 L158.9,446.5 L172.1,442.5 L176.1,435.9 Z" fill="#5f5f5f"/>
  <path d="M179,428 L183,424.4 L190.4,425 L195,431 L193.8,437.6 L190,441 L182,438 Z" fill="#868686"/>
  <path d="M191.3,443.8 L194.6,459.7 L197.3,478.3 L194.6,479 L190.6,460 L188.6,445 Z" fill="#adadad"/>
  <path d="M154,452 L160,448 L172,444.4 L176,450 L166,454 L156,458 Z" fill="#737373"/>
  <ellipse cx="164.8" cy="470.2" rx="3.4" ry="2.8" fill="#8f8f8f"/>
  <ellipse cx="202.4" cy="481" rx="4" ry="3.6" fill="#8c8c8c"/>
  <rect x="186" y="477.6" width="14" height="3.6" rx="1.4" fill="#9c9c9c"/>
  <!-- main green body -->
  <path d="M100.7,450.7 L93.6,462.5 L92.4,474.7 L98.7,492.1 L99.9,514.5 L104.9,539.4 L102.4,559.3 L97.4,569.2 L101.2,585 L115.3,621.2 L141.2,663.7 L160.1,701.3 L171.9,713.1 L211.9,701.3 L223.7,687.2 L221.3,649.5 L240.2,637.7 C247,628 254.5,610 254.5,586 C254.5,565 250,548 243,536 L236,530 L232,524 L236.5,512 L242.7,501 L241,494 L233,490 L218.5,490.7 L190.2,486 L162,474.2 L138.4,469.5 L112.3,452.3 Z" fill="#3a7e2f"/>
  <!-- left flange darker edge -->
  <path d="M100.7,450.7 L93.6,462.5 L92.4,474.7 L98.7,492.1 L99.9,514.5 L104.9,539.4 L102.4,559.3 L97.4,569.2 L101.2,585 L115.3,621.2 L141.2,663.7 L160.1,701.3 L165,693 L148,660 L124,618 L110,584 L108,566 L112,540 L107,512 L106,490 L100,474 L104,458 Z" fill="#2a6425"/>
  <!-- top face lighter -->
  <path d="M104,458 L112.3,452.3 L127.3,464.7 L139.7,469.7 L162.1,472.2 L184.5,482.1 L199.4,484.6 L219.3,492.1 L233,490 L241,494 L242.7,501 L237,511 L219.3,505 L199.4,499 L179.5,495 L154.6,490 L129.8,482 L114.8,476 L101,474 Z" fill="#458e39"/>
  <path d="M104.9,472.2 L127.3,473.4 L127.3,480.9 L106.1,479.7 Z" fill="#e39a9a"/>
  <rect x="106" y="473" width="8" height="6.4" rx="2" fill="#f0b8b8"/>
  <!-- inner cavity -->
  <path d="M110,492 L130,492 L154.6,504.5 L199,520 L197,560 L198,600 L204,642 L196,660 L170,650 L150,620 L128,590 L112,560 L114,530 Z" fill="#3a8232"/>
  <path d="M154.6,524.4 L172.0,520.7 L189.5,521.9 L196.9,539.4 L194.4,559.3 L187.0,569.2 L174.5,569.2 L164.6,549.3 L154.6,539.4 Z" fill="#58a44a"/>
  <path d="M160,528 L172,525 L176,540 L172,560 L164.6,549.3 L158,540 Z" fill="#86c676"/>
  <path d="M129.8,524.4 L154.6,524.4 L154.6,539.4 L164.6,549.3 L174.5,569.2 L154.6,574.2 L134.7,569.2 L129.8,549.3 Z" fill="#2c6a28"/>
  <path d="M112,540 L130,545 L136,570 L152,578 L150,600 L132,598 L118,580 L110,562 Z" fill="#3a7e2f"/>
  <path d="M150,578 L176,572 L196,575 L198,640 L180,650 L160,640 L140,615 L132,598 L150,600 Z" fill="#347a2e"/>
  <path d="M140,600 L168,592 L186,600 L190,630 L170,640 L152,625 Z" fill="#418c38"/>
  <path d="M236.5,512 L242.7,501 L241,494 L236,497 L231,510 L232,524 Z" fill="#265c22"/>
  <!-- inner dome arc -->
  <path d="M131.8,574 Q137,606 150,628 Q163,648 182,653 L204,652" fill="none" stroke="#21581f" stroke-width="2.6" stroke-linecap="round" opacity="0.9"/>
  <path d="M135,574 Q140,604 152.6,625 Q165,644 183,649.4 L202,648.6" fill="none" stroke="#5aa84c" stroke-width="1.1" stroke-linecap="round" opacity="0.8"/>
  <path d="M154,524 L156,572" fill="none" stroke="#1f561f" stroke-width="1.8" opacity="0.8"/>
  <path d="M128,577 L196,573" fill="none" stroke="#205820" stroke-width="1.6" opacity="0.8"/>
  <!-- brown/orange block -->
  <path d="M117.3,494.6 L134.7,492.1 L139.7,497.1 L159.6,504.5 L160.8,514.5 L154.6,520.7 L132.2,524.4 L129.8,509.5 L117.3,504.5 Z" fill="#c78a5c"/>
  <path d="M142.2,505.8 L159.6,505.8 L160.1,515.7 L154.6,519.5 L143.4,518.2 Z" fill="#8a5228"/>
  <path d="M117.3,494.6 L134.7,492.1 L139.7,497.1 L128,500 Z" fill="#dba678"/>
  <!-- dome -->
  <defs>
    <linearGradient id="domeG" x1="0" y1="0" x2="1" y2="0.2">
      <stop offset="0" stop-color="#38782c"/><stop offset="0.55" stop-color="#45873a"/><stop offset="1" stop-color="#316e29"/>
    </linearGradient>
  </defs>
  <path d="M205,500 L219.3,506 L230,520 L236,530 L243,536 C250,548 254.5,565 254.5,586 C254.5,610 247,628 240.2,637.7 L221.3,649.5 L206,642 L199,600 L197.5,560 L199.4,529.4 Z" fill="url(#domeG)"/>
  <path d="M238,532 L243,536 C250,548 254.5,565 254.5,586 C254.5,610 247,628 240.2,637.7 L234,642 C242,628 248.6,610 248.6,586 C248.6,565 244.6,548 238,532 Z" fill="#2d6826"/>
  <!-- bottom right flange -->
  <path d="M206,642 L221.3,649.5 L223.7,687.2 L211.9,701.3 L171.9,713.1 L160.1,701.3 L166,692 L190,676 L200,662 Z" fill="#3a7e2f"/>
  <path d="M166,692 L190,676 L200,662 L206,645 L212,652 L214,684 L206,696 L174,706 Z" fill="#2a6425"/>
  <path d="M172,680 L190,670 L198,676 L196,692 L178,698 Z" fill="#4a963e"/>
  <!-- brown gasket line -->
  <path d="M100,462 L112,461 L127,468 L140,473 L162,476 L184,485.5 L199,489 L203,497 L200,529 L198,560 L199.5,600 L206,642 L212,652 L214,686 L207,697 L172,709" fill="none" stroke="#80502c" stroke-width="1.8" stroke-linejoin="round"/>
  <g fill="#9a5a36">
    <circle cx="200.5" cy="529" r="2.6"/><circle cx="206" cy="627" r="2.8"/><circle cx="214" cy="686" r="2.4"/><circle cx="173" cy="709" r="2.8"/>
    <circle cx="99" cy="462" r="2.2"/><circle cx="96" cy="480" r="2.2"/><circle cx="99" cy="572" r="2.4"/><circle cx="116" cy="622" r="2.2"/><circle cx="142" cy="664" r="2.2"/><circle cx="102" cy="514" r="2.2"/>
  </g>
  <!-- red pin 20 -->
  <rect x="169.5" y="578" width="23" height="11.4" rx="3" fill="#c25454"/>
  <rect x="171" y="579.4" width="20" height="3.6" rx="1.8" fill="#e08888"/>
  <ellipse cx="171" cy="583.7" rx="2.4" ry="5.4" fill="#d87070"/>
  <!-- silver bolts -->
  <g>
    <rect x="217" y="528.6" width="17" height="4.4" rx="1.6" fill="#9a9ea2"/>
    <rect x="219" y="615.6" width="14" height="4.6" rx="1.6" fill="#8f9498"/><rect x="232" y="614" width="6" height="7.6" rx="2" fill="#7b8084"/>
    <rect x="223" y="675.4" width="14" height="3.6" rx="1.4" fill="#a0a4a8"/><rect x="236" y="672.6" width="6.6" height="8.6" rx="2" fill="#777b80"/>
  </g>
  <!-- pink pin 23 -->
  <rect x="154.6" y="710" width="12.4" height="5.8" rx="2.2" fill="#e29a9a"/>
  <rect x="155.6" y="710.8" width="10" height="2" rx="1" fill="#f4c8c8"/>
  <!-- yellow line detail -->
  <line x1="175" y1="515" x2="196" y2="513" stroke="#c8c83c" stroke-width="1.6"/>
</g>

<!-- gasket 25 part running over cover -->
<g filter="url(#soft)">
  <path d="M94.5,493.4 L103,494 L112,498 L121,505 L126.5,518 L128.5,540 L130,574.6 L132,605.8 L134,625 L139,650 L137,672 L135.5,690" fill="none" stroke="#3f6688" stroke-width="2.1" stroke-linejoin="round" opacity="0.92"/>
</g>

<!-- ===== shaft assembly 21/29/19/30/18, bracket 33/32, 35/34 ===== -->
<g id="pshaft" filter="url(#soft)">
  <!-- part 32 -->
  <path d="M240.3,387.4 L248,388 L250.3,392.1 L245.6,403.9 L241.5,406.2 L236.2,400.4 Z" fill="#36a27c"/>
  <path d="M240.3,387.4 L248,388 L250.3,392.1 L243,391 Z" fill="#6ccfa8"/>
  <path d="M241.5,406.2 L245.6,403.9 L250.3,392.1 L248.4,391.6 L243.6,402 Z" fill="#23805e"/>
  <circle cx="241.6" cy="397" r="1.5" fill="#b6ecd8"/>
  <!-- bolt -->
  <rect x="282" y="394.2" width="25" height="4.4" fill="#b98052" transform="rotate(-1.5 282 396)"/>
  <rect x="303.4" y="391" width="9.2" height="10.8" rx="2.4" fill="#c88c58"/>
  <rect x="306.4" y="391" width="2.2" height="10.8" fill="#a8703e"/>
  <!-- part 33 bracket -->
  <path d="M253.9,394.5 L259.2,390.9 L276.8,390.9 L282.7,395.6 L287.4,403.9 L291,413.3 L288.6,416.8 L279.2,414.5 L272.1,415.7 L263.9,414.5 L256.8,409.8 L254.4,401.5 Z" fill="#2b8629"/>
  <path d="M259.2,390.9 L276.8,390.9 L282.7,395.6 L275,398 L262,395.6 Z" fill="#1d661f"/>
  <path d="M255,398 L263,397 L272,405.4 L270,412.6 L259,409.4 Z" fill="#46a83e"/>
  <path d="M276,399 L283,397 L289,411 L286,414.6 L279,412 Z" fill="#1f6e22"/>
  <ellipse cx="275.4" cy="398.8" rx="2.6" ry="1.2" fill="#dcf2d6" transform="rotate(28 275.4 398.8)"/>
  <ellipse cx="266.4" cy="406.6" rx="2.6" ry="1.2" fill="#dcf2d6" transform="rotate(28 266.4 406.6)"/>
  <path d="M286,414 L291,413.3 L297,419 L296,424 L290,422 Z" fill="#76846c"/>
  <ellipse cx="295" cy="419" rx="3" ry="3.4" fill="#dedede"/>
  <!-- magenta piece -->
  <path d="M269.2,420.4 L276.8,416.8 L291,418.6 L298,421.6 L298.6,426.3 L291,429.8 L280.4,433.3 L274.5,431 Z" fill="#a0328a"/>
  <path d="M271,420.6 L277,418 L286,419.6 L279,424 Z" fill="#d274c2"/>
  <path d="M280.4,433.3 L291,429.8 L298.6,426.3 L297,424 L288,427 L279,429.6 Z" fill="#74206a"/>
  <!-- shaft -->
  <path d="M256.5,421 L267.5,423.5 L239,503 L227.6,500 Z" fill="#868686"/>
  <path d="M259.5,421.5 L263.5,422.4 L235,502 L231.5,501 Z" fill="#c4c4c4"/>
  <rect x="256.8" y="417" width="10.4" height="10" rx="3" fill="#b8b8b8" transform="rotate(15 262 422)"/>
  <rect x="258" y="417.5" width="8" height="3" rx="1.5" fill="#e0e0e0" transform="rotate(15 262 422)"/>
  <!-- blue part 29 -->
  <path d="M249.6,429.4 L265.4,433.4 L262,446.6 L246.2,442.8 Z" fill="#3b7fc4"/>
  <path d="M251.5,434 L262.5,437 L262,439.5 L251,436.5 Z" fill="#8cc0f0"/>
  <path d="M250.5,430 L254,431 L251,444 L247.5,443 Z" fill="#2b5f9c"/>
  <!-- teal ring -->
  <ellipse cx="248.3" cy="455.8" rx="12.4" ry="6.4" fill="#3fbcbc" transform="rotate(14 248.3 455.8)"/>
  <ellipse cx="249" cy="454" rx="5.6" ry="3" fill="#8a8a8a" transform="rotate(14 249 454)"/>
  <path d="M245,448 L254.5,450 L252.5,457 L243,455 Z" fill="#8c8c8c"/>
  <!-- indigo ring 19 -->
  <ellipse cx="241.4" cy="473.8" rx="10" ry="6.6" fill="#3b2ea0" transform="rotate(14 241.4 473.8)"/>
  <path d="M238,466 L247.5,468 L246,474 L236.5,472 Z" fill="#9a9a9a"/>
  <ellipse cx="241.8" cy="471" rx="4.8" ry="2.6" fill="#b4b4b4" transform="rotate(14 241.8 471)"/>
  <!-- yellow ring 30 -->
  <path d="M229,481.5 L245,485 L242.4,496.6 L226.6,493 Z" fill="#c9c244"/>
  <path d="M231.5,484 L243.5,486.6 L243,489 L231,486.4 Z" fill="#e8e47a"/>
  <path d="M230.5,493.5 L240.5,495.5 L239.5,500 L231,499 Z" fill="#8a6a4a"/>
  <!-- part 35 plug -->
  <g transform="rotate(12 168 408)">
    <path d="M162,393 L169,390.6 L177.6,393 L177.6,404 L162,404 Z" fill="#7e7e7e"/>
    <path d="M172,391.4 L177.6,393 L177.6,404 L173,404 Z" fill="#b4b4b4"/>
    <path d="M156.6,403.4 L179.6,403.4 L179.6,408.6 L173,411 L158.4,410 Z" fill="#9c9c9c"/>
    <path d="M159.6,410 L172.6,410.4 L171.4,424 L160.8,423 Z" fill="#c2c2c2"/>
    <rect x="160" y="414" width="12" height="2.4" fill="#8a8a8a"/>
    <rect x="163" y="410.4" width="3.4" height="13" fill="#ececec"/>
  </g>
  <!-- 34 o-ring -->
  <ellipse cx="159.8" cy="429.8" rx="9.4" ry="1.9" fill="#8c3c8e" transform="rotate(17 159.8 429.8)"/>
</g>

<!-- ===== 22 ring + circlip, 26/27/28 ===== -->
<g id="p22" filter="url(#soft)">
  <ellipse cx="251.6" cy="648.6" rx="8.6" ry="10.6" fill="#8a4a74" transform="rotate(-20 251.6 648.6)"/>
  <ellipse cx="249.6" cy="647" rx="8" ry="10" fill="#bc80a8" transform="rotate(-20 249.6 647)"/>
  <ellipse cx="250" cy="646.8" rx="5.6" ry="7.6" fill="#94547e" transform="rotate(-20 250 646.8)"/>
  <ellipse cx="250.8" cy="647" rx="4.4" ry="6.4" fill="#d8b4cc" transform="rotate(-20 250.8 647)"/>
  <path d="M266,634.5 Q261.5,633 261,639 Q260.5,643 264,644.5 Q264,651 269,653 Q275,652 273.5,641" fill="none" stroke="#9a8e8e" stroke-width="1.3"/>
  <!-- 26 bolt -->
  <rect x="58" y="588.6" width="18" height="5.2" rx="1.2" fill="#dc7468"/>
  <rect x="55.6" y="587" width="5.6" height="9.4" rx="1.8" fill="#e08478"/>
  <!-- 27 washer -->
  <ellipse cx="80.5" cy="589.5" rx="3.4" ry="7.2" fill="none" stroke="#6e2092" stroke-width="2.4" transform="rotate(-10 80.5 589.5)"/>
  <line x1="80" y1="596" x2="95" y2="593.6" stroke="#7a2a8a" stroke-width="1.8"/>
  <!-- 28 spring -->
  <g fill="none" stroke="#b0a070" stroke-width="1.1">
    <ellipse cx="90.5" cy="587.6" rx="2.4" ry="7"/>
    <ellipse cx="94" cy="587.2" rx="2.4" ry="7"/>
    <ellipse cx="97.5" cy="586.8" rx="2.4" ry="7"/>
  </g>
</g>

<!-- ===== PART 36 : gray cover ===== -->
<g id="p36" filter="url(#soft)">
  <defs>
    <radialGradient id="face36" cx="0.4" cy="0.35" r="0.7">
      <stop offset="0" stop-color="#b6b6b6"/><stop offset="0.55" stop-color="#8e8e8e"/><stop offset="1" stop-color="#5a5a5a"/>
    </radialGradient>
  </defs>
  <path d="M414.1,503.6 L420.4,498.8 L431.4,496.5 L439.3,499.6 L445.5,505.9 L452.6,503.6 L455.0,498.1 L460.5,497.3 L462.8,502.0 L473.8,506.7 L483.2,508.3 L491.1,513.0 L503.7,512.2 L506.8,516.1 L504.4,525.5 L498.2,539.7 L495.8,553.8 L492.7,568.0 L490.3,588.4 L485.6,591.5 L480.1,588.4 L473.8,582.1 L462.8,574.2 L451.8,575.8 L436.1,572.7 L422.0,561.7 L415.7,547.5 L414.9,535.0 L418.8,524.0 L415.7,514.6 Z" fill="#585858"/>
  <!-- red gasket -->
  <path d="M503,513 L506.6,516.4 L503.9,526.3 L497.9,540.5 L495.5,553.8 L492.5,568.0 L490.1,588.4 L486.4,591 L487,586 L489.6,567 L492.6,552 L495,540 L501,525 Z" fill="#963232"/>
  <path d="M462.8,502.0 L464,498 L470,498 L475,502 L475.4,507.5 L468,506 Z" fill="#b03a3a"/>
  <!-- upper body -->
  <path d="M445.5,505.9 L452.6,503.6 L462.8,502.0 L473.8,506.7 L483.2,508.3 L491.1,513.0 L494.2,520.8 L488.0,531.8 L484.8,546.0 L481.7,561.7 L478.5,574.2 L473.8,582.1 L462.8,574.2 L469.1,558.5 L470.7,542.8 L466.0,527.1 L456.5,516.1 Z" fill="#787878"/>
  <path d="M456,506 L472,508 L482,511 L489,515 L486,524 L476,520 L464,515 Z" fill="#9c9c9c"/>
  <path d="M470,545 L480,528 L486,530 L482,548 L478,572 L473,580 L466,572 Z" fill="#646464"/>
  <path d="M491.1,513.0 L503.7,512.2 L506.8,516.1 L500,518 L494.2,520.8 Z" fill="#7a7a7a"/>
  <!-- back-left hump -->
  <path d="M414.1,503.6 L420.4,498.8 L431.4,496.5 L439.3,499.6 L445.5,505.9 L436,512 L424,522 L418.8,524.0 L415.7,514.6 Z" fill="#5c5c5c"/>
  <path d="M420,501 L431,498.5 L438,501 L432,506 L422,510 Z" fill="#7c7c7c"/>
  <!-- round face -->
  <ellipse cx="442.6" cy="548.6" rx="27.4" ry="27" fill="#3c3c3c"/>
  <ellipse cx="442" cy="548" rx="25.4" ry="25.2" fill="url(#face36)"/>
  <ellipse cx="441.6" cy="549" rx="17" ry="17" fill="#8c8c8c"/>
  <ellipse cx="441.2" cy="549.4" rx="13" ry="13.4" fill="#626262"/>
  <path d="M432,521 L434,521 L434.5,531 L432.8,531 Z" fill="#d8d8d8"/>
  <path d="M450,566 L452,565 L460,572 L458,573.5 Z" fill="#d8d8d8"/>
  <path d="M455,542 L462,540 L462.5,542.6 L455.5,544.6 Z" fill="#4a4a4a"/>
  <path d="M417,545 L424,547 L424,549 L417,547.4 Z" fill="#4a4a4a"/>
  <circle cx="457.6" cy="500.6" r="2.8" fill="#5a5a5a"/>
</g>

<!-- ===== PART 39 cap & 23 small ===== -->
<g id="p39" filter="url(#soft)">
  <path d="M499,443 L507.5,443.6 Q512.8,446 512.6,452 Q512.4,458 507.6,460.6 L499.6,461.2 Z" fill="#6a1f6e"/>
  <ellipse cx="499.2" cy="452" rx="7.6" ry="9" fill="#8e3092" transform="rotate(-6 499.2 452)"/>
  <ellipse cx="498.8" cy="452.2" rx="5" ry="6.2" fill="#a850ac" transform="rotate(-6 498.8 452.2)"/>
  <ellipse cx="498.8" cy="452.4" rx="3" ry="4" fill="#7a2a80" transform="rotate(-6 498.8 452.4)"/>
  <path d="M525.5,552.6 L531,550.4 L534,552.4 L528.6,556 Z" fill="#c8a0a0"/>
  <path d="M525.5,552.6 L528.6,556 L528,557 L525,554 Z" fill="#a07878"/>
</g>

<!-- ===== PART 31 & 40 caps ===== -->
<g id="p31" filter="url(#soft)">
  <ellipse cx="348.7" cy="654.2" rx="19.6" ry="19.8" fill="#2a2a2a"/>
  <ellipse cx="348.7" cy="654.2" rx="17.6" ry="17.8" fill="#d4d4d4"/>
  <ellipse cx="348.7" cy="654.2" rx="16.2" ry="16.4" fill="#3a3a3a"/>
  <path d="M331.6,649 L366,649 L367,654 L366,661 L331.6,661 L330.6,655 Z" fill="#c6c6c6"/>
  <path d="M331.6,649 L366,649 L366.6,652 L331,652 Z" fill="#dedede"/>
  <ellipse cx="348.7" cy="654.2" rx="19" ry="19.2" fill="none" stroke="#2a2a2a" stroke-width="1.6"/>
</g>
<g id="p40" filter="url(#soft)">
  <ellipse cx="423.7" cy="635.9" rx="14.8" ry="14.5" fill="#3a3a3a"/>
  <ellipse cx="423.7" cy="635.9" rx="13.2" ry="13" fill="#e8e8e8"/>
  <ellipse cx="423.7" cy="635.9" rx="12" ry="11.8" fill="#404040"/>
  <path d="M411.2,632.6 L436.6,632.6 L437,636 L436.4,640.6 L411,640.6 L410.6,636.6 Z" fill="#f2f2f2"/>
  <text x="414.4" y="639.4" font-size="6.6" font-weight="bold" font-style="italic" textLength="18.6" lengthAdjust="spacingAndGlyphs" fill="#333">DTS-i</text>
  <ellipse cx="423.7" cy="635.9" rx="14.2" ry="13.9" fill="none" stroke="#3a3a3a" stroke-width="1.2"/>
</g>

<!-- ===== PART 45 rubber ===== -->
<g id="p45" filter="url(#soft)">
  <defs>
    <radialGradient id="bumpG" cx="0.4" cy="0.3" r="0.75">
      <stop offset="0" stop-color="#474747"/><stop offset="0.55" stop-color="#2c2c2c"/><stop offset="1" stop-color="#1a1a1a"/>
    </radialGradient>
  </defs>
  <path d="M467.9,647.5 L473.7,633.1 L483.8,621.6 L493.8,617.3 L502.5,615.8 L512.6,618.7 L524.1,620.1 L532.7,625.9 L537,634.5 L537.7,671.9 L535.6,677.7 L529.8,689.9 L519.7,692.8 L502.5,693.5 L491,690.6 L483.8,683.5 L476.6,669.1 L468.7,657.6 Z" fill="#2b2b2a"/>
  <path d="M468.7,657.6 L476.6,669.1 L483.8,683.5 L491,690.6 L502.5,693.5 L519.7,692.8 L529.8,689.9 L535.6,677.7 L537.7,671.9 L520,676 L500,676 L484,668 L474,652 Z" fill="#1f1f1e"/>
  <path d="M473.7,633.1 L483.8,621.6 L493.8,617.3 L512.6,618.7 L532.7,625.9 L537,634.5 L530,640 L500,634 L480,640 Z" fill="#343433"/>
  <ellipse cx="507.5" cy="650.4" rx="16.6" ry="11" fill="#0c0c0c"/>
  <ellipse cx="507.4" cy="658.2" rx="12.4" ry="5.2" fill="#ffffff"/>
  <ellipse cx="498.2" cy="626.6" rx="8.6" ry="9.1" fill="#1b1b1b"/><ellipse cx="498.2" cy="624.5" rx="7.9" ry="8.2" fill="url(#bumpG)"/>
  <ellipse cx="521.9" cy="630.9" rx="8.6" ry="9.1" fill="#1b1b1b"/><ellipse cx="521.9" cy="628.8" rx="7.9" ry="8.2" fill="url(#bumpG)"/>
  <ellipse cx="480.9" cy="637.9" rx="7.9" ry="8.3" fill="#1b1b1b"/><ellipse cx="480.9" cy="636.0" rx="7.3" ry="7.5" fill="url(#bumpG)"/>
  <ellipse cx="528.4" cy="665.1" rx="7.2" ry="7.6" fill="#1b1b1b"/><ellipse cx="528.4" cy="663.3" rx="6.6" ry="6.8" fill="url(#bumpG)"/>
  <ellipse cx="501.0" cy="666.4" rx="9.4" ry="9.8" fill="#1b1b1b"/><ellipse cx="501.0" cy="664.0" rx="8.6" ry="8.9" fill="url(#bumpG)"/>
</g>

<!-- ===== PART 48 plate ===== -->
<g id="p48" filter="url(#soft)">
  <defs>
    <linearGradient id="plateG" x1="0" y1="0" x2="1" y2="0.6">
      <stop offset="0" stop-color="#82943a"/><stop offset="0.35" stop-color="#96a03c"/><stop offset="0.6" stop-color="#a8a244"/><stop offset="0.8" stop-color="#86a05e"/><stop offset="1" stop-color="#98a046"/>
    </linearGradient>
    <radialGradient id="plateSpot" cx="0.5" cy="0.5" r="0.5">
      <stop offset="0" stop-color="#6f9a6c" stop-opacity="0.8"/><stop offset="1" stop-color="#6f9a6c" stop-opacity="0"/>
    </radialGradient>
  </defs>
  <path d="M580.6,621.8 L667,622.9 L672.6,628.2 L686.2,691.4 L683,698.6 L673.4,701.8 L572.6,702.6 L564.6,696.2 L563.8,689.8 L575.8,626.6 Z" fill="#74743a"/>
  <path d="M581.6,624.6 L666,625.6 L669.8,629.4 L682.6,690.4 L680.4,695.6 L672.6,698.4 L573.6,699.2 L567.6,694.6 L567,689.8 L578,628 Z" fill="url(#plateG)"/>
  <ellipse cx="652" cy="665" rx="26" ry="24" fill="url(#plateSpot)"/>
  <ellipse cx="598" cy="655" rx="16" ry="20" fill="url(#plateSpot)" opacity="0.8"/>
  <path d="M567,689.8 L578,628 L581.6,624.6 L584,627 L572,690 L573.6,699.2 Z" fill="#c8c864" opacity="0.7"/>
  <path d="M573.6,699.2 L672.6,698.4 L680.4,695.6 L679,693 L672,695.6 L575,696.2 Z" fill="#d2cc74" opacity="0.8"/>
  <ellipse cx="623.8" cy="639.1" rx="8.4" ry="5.8" fill="#9c8a3c"/>
  <ellipse cx="623.9" cy="639.3" rx="6.6" ry="4.3" fill="#ffffff"/>
  <ellipse cx="624.9" cy="685" rx="9.8" ry="7.2" fill="#9c8a3c"/>
  <ellipse cx="625" cy="685.2" rx="7.8" ry="5.6" fill="#ffffff"/>
</g>

<!-- ===== PART 46 rubber block ===== -->
<g id="p46" filter="url(#soft)">
  <defs><radialGradient id="bumpG2" cx="0.42" cy="0.3" r="0.75"><stop offset="0" stop-color="#3c3c3b"/><stop offset="0.5" stop-color="#242423"/><stop offset="1" stop-color="#151515"/></radialGradient></defs>
  <path d="M731,624.6 L734,621.6 L826,621.6 L829.4,626 L835.7,643.2 L845.5,664.8 L851.4,678.5 L850.4,698.2 L845.5,710 L835.7,712.9 L774.8,712.9 L771.8,707 L772.8,698.2 L729.6,700.1 L721.8,692.3 L720.8,682.5 L727.7,649.1 Z" fill="#333331"/>
  <path d="M720.8,682.5 L850.8,684 L850.4,698.2 L845.5,710 L835.7,712.9 L774.8,712.9 L771.8,707 L772.8,698.2 L729.6,700.1 L721.8,692.3 Z" fill="#292927"/>
  <ellipse cx="749.3" cy="649.1" rx="16.7" ry="9.8" fill="#181817"/>
  <ellipse cx="818" cy="649.1" rx="15.7" ry="9.8" fill="#181817"/>
  <ellipse cx="740.4" cy="621.4" rx="6.9" ry="7.2" fill="#1f1f1e"/><ellipse cx="740.4" cy="619.6" rx="6.3" ry="6.5" fill="url(#bumpG2)"/>
  <ellipse cx="760.7" cy="621.4" rx="6.9" ry="7.2" fill="#1f1f1e"/><ellipse cx="760.7" cy="619.6" rx="6.3" ry="6.5" fill="url(#bumpG2)"/>
  <ellipse cx="780.3" cy="622.3" rx="6.9" ry="7.2" fill="#1f1f1e"/><ellipse cx="780.3" cy="620.6" rx="6.3" ry="6.5" fill="url(#bumpG2)"/>
  <ellipse cx="800.3" cy="622.3" rx="6.9" ry="7.2" fill="#1f1f1e"/><ellipse cx="800.3" cy="620.6" rx="6.3" ry="6.5" fill="url(#bumpG2)"/>
  <ellipse cx="820.0" cy="623.3" rx="6.9" ry="7.2" fill="#1f1f1e"/><ellipse cx="820.0" cy="621.6" rx="6.3" ry="6.5" fill="url(#bumpG2)"/>
  <ellipse cx="739.5" cy="631.5" rx="8.2" ry="8.7" fill="#1f1f1e"/><ellipse cx="739.5" cy="629.5" rx="7.6" ry="7.8" fill="url(#bumpG2)"/>
  <ellipse cx="766.0" cy="631.5" rx="8.2" ry="8.7" fill="#1f1f1e"/><ellipse cx="766.0" cy="629.5" rx="7.6" ry="7.8" fill="url(#bumpG2)"/>
  <ellipse cx="797.4" cy="631.5" rx="8.2" ry="8.7" fill="#1f1f1e"/><ellipse cx="797.4" cy="629.5" rx="7.6" ry="7.8" fill="url(#bumpG2)"/>
  <ellipse cx="822.9" cy="633.5" rx="8.2" ry="8.7" fill="#1f1f1e"/><ellipse cx="822.9" cy="631.4" rx="7.6" ry="7.8" fill="url(#bumpG2)"/>
  <ellipse cx="782.6" cy="639.3" rx="7.9" ry="8.2" fill="#1f1f1e"/><ellipse cx="782.6" cy="637.3" rx="7.2" ry="7.5" fill="url(#bumpG2)"/>
  <ellipse cx="784.6" cy="653.4" rx="9.4" ry="9.9" fill="#1f1f1e"/><ellipse cx="784.6" cy="651.1" rx="8.7" ry="9.0" fill="url(#bumpG2)"/>
  <ellipse cx="735.5" cy="665.2" rx="9.4" ry="9.9" fill="#1f1f1e"/><ellipse cx="735.5" cy="662.8" rx="8.7" ry="9.0" fill="url(#bumpG2)"/>
  <ellipse cx="766.9" cy="663.1" rx="8.8" ry="9.3" fill="#1f1f1e"/><ellipse cx="766.9" cy="660.9" rx="8.1" ry="8.4" fill="url(#bumpG2)"/>
  <ellipse cx="805.2" cy="663.1" rx="8.8" ry="9.3" fill="#1f1f1e"/><ellipse cx="805.2" cy="660.9" rx="8.1" ry="8.4" fill="url(#bumpG2)"/>
  <ellipse cx="834.7" cy="664.2" rx="9.4" ry="9.9" fill="#1f1f1e"/><ellipse cx="834.7" cy="661.8" rx="8.7" ry="9.0" fill="url(#bumpG2)"/>
  <ellipse cx="733.6" cy="680.4" rx="11.4" ry="12.0" fill="#1f1f1e"/><ellipse cx="733.6" cy="677.6" rx="10.5" ry="10.8" fill="url(#bumpG2)"/>
  <ellipse cx="761.1" cy="680.1" rx="10.2" ry="10.7" fill="#1f1f1e"/><ellipse cx="761.1" cy="677.6" rx="9.4" ry="9.7" fill="url(#bumpG2)"/>
  <ellipse cx="788.5" cy="681.1" rx="10.2" ry="10.7" fill="#1f1f1e"/><ellipse cx="788.5" cy="678.5" rx="9.4" ry="9.7" fill="url(#bumpG2)"/>
  <ellipse cx="815.0" cy="681.1" rx="10.2" ry="10.7" fill="#1f1f1e"/><ellipse cx="815.0" cy="678.5" rx="9.4" ry="9.7" fill="url(#bumpG2)"/>
  <ellipse cx="840.6" cy="680.3" rx="10.8" ry="11.3" fill="#1f1f1e"/><ellipse cx="840.6" cy="677.6" rx="9.9" ry="10.3" fill="url(#bumpG2)"/>
</g>

<!--PARTS-->

<!-- ===== LABELS ===== -->
<g id="labels" text-anchor="middle" filter="url(#softT)" stroke="#111" stroke-width="0.28">
  <text transform="translate(69.5,75.2) scale(0.95,1)" font-size="15.7">2</text>
  <text transform="translate(245.1,127.5) scale(0.95,1)" font-size="15.3">1</text>
  <text transform="translate(303.2,192.3) scale(0.95,1)" font-size="15.3">5</text>
  <text transform="translate(167.8,245.4) scale(0.95,1)" font-size="15.6">3</text>
  <text transform="translate(177.7,263.5) scale(0.95,1)" font-size="15.5">4</text>
  <text transform="translate(206.9,290.8) scale(0.95,1)" font-size="15.7">6</text>
  <text transform="translate(440.4,44.8) scale(1.00,1)" font-size="17.3">41</text>
  <text transform="translate(464.3,45.4) scale(1.00,1)" font-size="17.0">42</text>
  <text transform="translate(487.2,50.4) scale(1.00,1)" font-size="17.0">43</text>
  <text transform="translate(643.8,40.9) scale(0.95,1)" font-size="16.0">7</text>
  <text transform="translate(655.8,118.6) scale(1.00,1)" font-size="16.0">11</text>
  <text transform="translate(467.9,155.1) scale(1.00,1)" font-size="16.0">14</text>
  <text transform="translate(566.5,211.5) scale(1.00,1)" font-size="16.0">12</text>
  <text transform="translate(563.7,254.1) scale(1.00,1)" font-size="15.2">16</text>
  <text transform="translate(571.3,300.8) scale(0.95,1)" font-size="15.9">9</text>
  <text transform="translate(551.5,348.5) scale(0.95,1)" font-size="16.2">8</text>
  <text transform="translate(519.2,384.1) scale(1.00,1)" font-size="16.2">10</text>
  <text transform="translate(782.8,256.2) scale(1.00,1)" font-size="20.2">49</text>
  <text transform="translate(828.1,382.3) scale(1.00,1)" font-size="16.6">37</text>
  <text transform="translate(809.0,504.7) scale(1.00,1)" font-size="17.2">38</text>
  <text transform="translate(244.2,366.8) scale(1.00,1)" font-size="16.6">32</text>
  <text transform="translate(265.0,369.5) scale(1.00,1)" font-size="16.6">33</text>
  <text transform="translate(134.2,401.5) scale(1.00,1)" font-size="16.2">35</text>
  <text transform="translate(131.7,426.9) scale(1.00,1)" font-size="16.2">34</text>
  <text transform="translate(229.9,437.6) scale(1.00,1)" font-size="16.0">29</text>
  <text transform="translate(290.0,452.5) scale(1.00,1)" font-size="16.0">21</text>
  <text transform="translate(216.3,459.7) scale(1.00,1)" font-size="16.8">24</text>
  <text transform="translate(275.6,482.0) scale(1.00,1)" font-size="16.0">19</text>
  <text transform="translate(269.5,497.8) scale(1.00,1)" font-size="16.0">30</text>
  <text transform="translate(264.1,512.5) scale(1.00,1)" font-size="16.6">18</text>
  <text transform="translate(67.5,462.0) scale(1.00,1)" font-size="16.9">25</text>
  <text transform="translate(295.7,564.1) scale(1.00,1)" font-size="19.9">17</text>
  <text transform="translate(277.1,590.7) scale(1.00,1)" font-size="16.9">20</text>
  <text transform="translate(255.4,680.7) scale(1.00,1)" font-size="17.6">22</text>
  <text transform="translate(61.5,618.5) scale(1.00,1)" font-size="15.2">26</text>
  <text transform="translate(80.3,623.4) scale(1.00,1)" font-size="15.5">27</text>
  <text transform="translate(99.0,618.9) scale(1.00,1)" font-size="15.5">28</text>
  <text transform="translate(161.3,744.7) scale(1.00,1)" font-size="17.2">23</text>
  <text transform="translate(417.7,470.7) scale(1.00,1)" font-size="16.2">36</text>
  <text transform="translate(503.1,483.5) scale(1.00,1)" font-size="16.7">39</text>
  <text transform="translate(531.0,534.5) scale(1.00,1)" font-size="15.9">23</text>
  <text transform="translate(347.2,615.1) scale(1.00,1)" font-size="16.0">31</text>
  <text transform="translate(422.8,692.1) scale(1.00,1)" font-size="17.3">40</text>
  <text transform="translate(500.8,730.2) scale(1.00,1)" font-size="17.3">45</text>
  <text transform="translate(624.8,732.4) scale(1.00,1)" font-size="17.6">48</text>
  <text transform="translate(793.5,741.4) scale(1.00,1)" font-size="17.9">46</text>
</g>
<g id="leaders" fill="none" stroke-width="1.1" filter="url(#softT)">
  <line x1="68.5" y1="78.2" x2="68.5" y2="95.4" stroke="#8e8e8e"/>
  <line x1="245.3" y1="129.2" x2="248.6" y2="143.0" stroke="#8e8e8e"/>
  <line x1="296.7" y1="189.2" x2="286.5" y2="194.3" stroke="#8e8e8e"/>
  <line x1="173.2" y1="238.4" x2="180.4" y2="234.4" stroke="#8e8e8e"/>
  <line x1="183.3" y1="256.6" x2="191.4" y2="253.5" stroke="#8e8e8e"/>
  <line x1="206.1" y1="266.9" x2="206.1" y2="276.3" stroke="#8e8e8e"/>
  <line x1="442.8" y1="47.0" x2="442.8" y2="60.8" stroke="#8e8e8e"/>
  <line x1="467.2" y1="49.2" x2="467.2" y2="67.5" stroke="#8e8e8e"/>
  <line x1="486.2" y1="53.1" x2="486.2" y2="68.6" stroke="#8e8e8e"/>
  <line x1="611.5" y1="34.4" x2="636.7" y2="34.4" stroke="#3a3a3a"/>
  <line x1="570.4" y1="102.8" x2="646.1" y2="113.6" stroke="#3a3a3a"/>
  <line x1="476.5" y1="148.7" x2="487.3" y2="148.4" stroke="#c8a0a0"/>
  <line x1="564.8" y1="179.5" x2="564.8" y2="196.7" stroke="#8e8e8e"/>
  <line x1="561.2" y1="256.3" x2="561.2" y2="263.4" stroke="#8e8e8e"/>
  <line x1="511.1" y1="270.1" x2="566.4" y2="294.1" stroke="#3a3a3a"/>
  <line x1="499.2" y1="312.7" x2="546.8" y2="341.4" stroke="#3a3a3a"/>
  <line x1="471.7" y1="329.2" x2="511.1" y2="372.5" stroke="#3a3a3a"/>
  <line x1="750.2" y1="249.5" x2="767.9" y2="249.5" stroke="#3a3a3a"/>
  <line x1="827.9" y1="386.7" x2="827.9" y2="409.0" stroke="#8e8e8e"/>
  <line x1="768.1" y1="496.2" x2="794.7" y2="496.2" stroke="#3a3a3a"/>
  <line x1="242.7" y1="370.3" x2="242.7" y2="386.2" stroke="#8e8e8e"/>
  <line x1="265.0" y1="372.3" x2="265.0" y2="390.3" stroke="#8e8e8e"/>
  <line x1="145.3" y1="396.0" x2="161.9" y2="396.3" stroke="#8e8e8e"/>
  <line x1="141.5" y1="425.5" x2="150.8" y2="426.4" stroke="#c8a8c8"/>
  <line x1="240.3" y1="432.7" x2="247.5" y2="432.7" stroke="#8e8e8e"/>
  <line x1="260.5" y1="447.0" x2="277.8" y2="447.0" stroke="#8e8e8e"/>
  <line x1="191.2" y1="453.5" x2="203.4" y2="453.5" stroke="#8e8e8e"/>
  <line x1="251.1" y1="475.1" x2="264.8" y2="475.1" stroke="#8e8e8e"/>
  <line x1="243.2" y1="491.1" x2="258.3" y2="491.1" stroke="#8e8e8e"/>
  <line x1="241.0" y1="506.2" x2="251.8" y2="506.2" stroke="#8e8e8e"/>
  <line x1="64.1" y1="465.3" x2="64.1" y2="474.3" stroke="#8e8e8e"/>
  <line x1="249.9" y1="557.2" x2="281.9" y2="557.2" stroke="#3a3a3a"/>
  <line x1="192.0" y1="584.6" x2="265.6" y2="585.5" stroke="#3a3a3a"/>
  <line x1="252.0" y1="658.7" x2="252.0" y2="667.1" stroke="#a080a0"/>
  <line x1="66.7" y1="595.6" x2="66.7" y2="605.6" stroke="#9a9a9a"/>
  <line x1="81.6" y1="594.5" x2="81.6" y2="610.0" stroke="#9a9a9a"/>
  <line x1="97.9" y1="592.2" x2="97.9" y2="605.6" stroke="#9a9a9a"/>
  <line x1="160.2" y1="716.9" x2="160.2" y2="729.1" stroke="#c8a8a8"/>
  <line x1="417.0" y1="476.7" x2="417.0" y2="497.6" stroke="#8e8e8e"/>
  <line x1="502.0" y1="462.2" x2="502.0" y2="468.2" stroke="#8e8e8e"/>
  <line x1="529.6" y1="538.7" x2="529.6" y2="550.6" stroke="#8e8e8e"/>
  <line x1="345.1" y1="620.1" x2="345.1" y2="634.4" stroke="#8e8e8e"/>
  <line x1="423.6" y1="650.9" x2="423.6" y2="674.6" stroke="#8e8e8e"/>
  <line x1="500.4" y1="696.2" x2="500.4" y2="715.6" stroke="#3a3a3a"/>
  <line x1="625.5" y1="704.2" x2="625.5" y2="717.5" stroke="#3a3a3a"/>
  <line x1="792.5" y1="713.9" x2="792.5" y2="723.7" stroke="#3a3a3a"/>
</g>
<!--LABELS-->
</svg>
</body>
</html>
